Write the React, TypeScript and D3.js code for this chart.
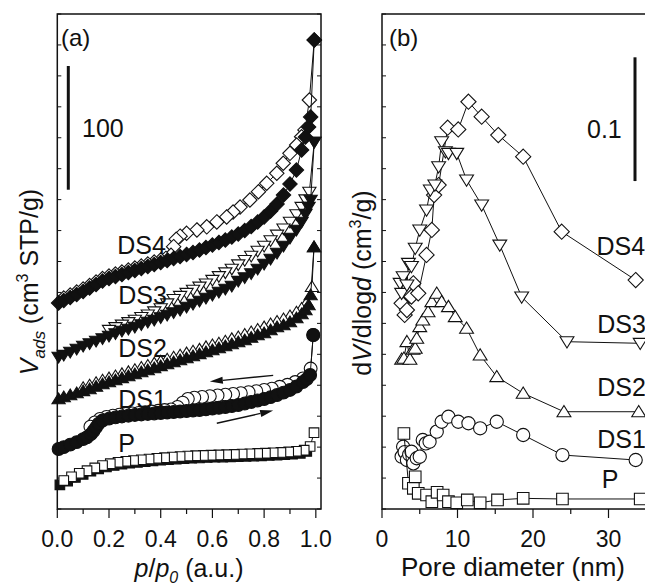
import React from 'react';
import * as d3 from 'd3';

type Pt = [number, number];

// ---------- Panel (a): N2 isotherms, [p/p0, V_ads (offset, cm3 STP/g)] ----------
const P_ADS: Pt[] = [[0.01,19.5],[0.04,22.5],[0.07,25.5],[0.1,28],[0.13,30.5],[0.16,32.5],[0.19,34],[0.22,35.2],[0.25,36.2],[0.28,37],[0.31,37.7],[0.34,38.3],[0.37,38.9],[0.4,39.4],[0.43,39.9],[0.46,40.3],[0.49,40.7],[0.52,41],[0.55,41.3],[0.58,41.6],[0.61,41.8],[0.64,42],[0.67,42.2],[0.7,42.4],[0.73,42.6],[0.76,42.8],[0.79,43],[0.82,43.3],[0.85,43.6],[0.88,43.9],[0.91,44.3],[0.94,45],[0.965,46.5]];
const P_DES: Pt[] = [[0.993,61.7],[0.978,50.5],[0.955,47.5],[0.925,46.6],[0.895,46.1],[0.865,45.7],[0.835,45.4],[0.805,45.1],[0.775,44.9],[0.745,44.6],[0.715,44.4],[0.685,44.1],[0.655,43.9],[0.625,43.7],[0.595,43.5],[0.565,43.3],[0.535,43.1],[0.505,42.8],[0.475,42.4],[0.445,42],[0.415,41.5],[0.385,41],[0.355,40.4],[0.325,39.8],[0.295,39.2],[0.265,38.5],[0.235,37.7],[0.205,36.6],[0.175,35.1],[0.145,33.2],[0.115,31],[0.085,28.8],[0.055,26],[0.025,23]];

const DS1_ADS: Pt[] = [[0.005,48.5],[0.025,50],[0.05,52],[0.075,54],[0.1,56.5],[0.115,58],[0.13,60.5],[0.14,63],[0.15,66],[0.16,69],[0.175,71.5],[0.2,73],[0.225,74],[0.25,74.8],[0.275,75.4],[0.3,76],[0.325,76.4],[0.35,76.8],[0.375,77.2],[0.4,77.6],[0.425,78],[0.45,78.4],[0.475,78.8],[0.5,79.2],[0.525,79.6],[0.55,80],[0.575,80.6],[0.6,81.2],[0.625,81.8],[0.65,82.4],[0.675,83.2],[0.7,84],[0.725,85.2],[0.75,86.5],[0.775,87.7],[0.8,88.9],[0.825,90.4],[0.85,92.1],[0.875,94],[0.9,96.2],[0.925,99],[0.95,102.6],[0.965,105],[0.978,108.3],[0.99,140.6]];
const DS1_DES: Pt[] = [[0.99,140.6],[0.98,113.5],[0.95,105.5],[0.92,102.6],[0.89,100.4],[0.86,98.8],[0.83,97.3],[0.8,96.2],[0.77,95.2],[0.74,94.4],[0.71,93.6],[0.68,93],[0.65,92.4],[0.62,91.8],[0.59,91.2],[0.56,90.6],[0.53,90],[0.505,89],[0.485,86],[0.465,82.5],[0.44,80.5],[0.415,80],[0.39,79.4],[0.365,78.8],[0.34,78.2],[0.315,77.6],[0.29,77.2],[0.265,76.8],[0.24,76.2],[0.215,75.4],[0.19,74.4],[0.165,72.8],[0.145,70],[0.128,66.5]];

const DS2_ADS: Pt[] = [[0.005,88.9],[0.025,90.5],[0.05,92.1],[0.075,93.7],[0.1,95.4],[0.125,97],[0.15,99],[0.175,101],[0.2,102.6],[0.225,104.2],[0.25,105.9],[0.275,107.5],[0.3,109.1],[0.325,110.7],[0.35,112.3],[0.375,113.9],[0.4,115.6],[0.425,117.2],[0.45,118.8],[0.475,120.4],[0.5,122],[0.525,123.6],[0.55,125.3],[0.575,126.9],[0.6,128.5],[0.625,130.1],[0.65,131.7],[0.675,133.3],[0.7,134.9],[0.725,136.6],[0.75,138.6],[0.775,140.6],[0.8,142.2],[0.825,144.6],[0.85,147.1],[0.875,148.7],[0.9,151.1],[0.925,154.3],[0.945,157.6],[0.96,160.8],[0.972,164.8],[0.98,172.9],[0.993,211.7]];
const DS2_DES: Pt[] = [[0.993,211.7],[0.985,179.6],[0.965,167],[0.945,162],[0.925,159],[0.9,156],[0.875,153.5],[0.85,151.5],[0.825,149.5],[0.8,147],[0.775,145],[0.75,143],[0.725,141],[0.7,139],[0.675,137.5],[0.65,135.5],[0.625,134],[0.6,132.5],[0.575,131],[0.55,129],[0.525,127.5],[0.5,126],[0.475,124.3],[0.45,122.6],[0.425,121],[0.4,119.3],[0.375,117.7],[0.35,116],[0.325,114.3],[0.3,112.5],[0.275,110.8],[0.25,109.2],[0.225,107.5],[0.2,105.8],[0.175,104],[0.15,102],[0.125,100],[0.1,98]];

const DS3_ADS: Pt[] = [[0.005,122.8],[0.025,124.4],[0.05,126.9],[0.075,129.3],[0.1,131.7],[0.125,133.7],[0.15,135.8],[0.175,137.8],[0.2,139.8],[0.225,141.8],[0.25,143.8],[0.275,145.5],[0.3,147.1],[0.325,149.1],[0.35,151.1],[0.375,152.7],[0.4,154.7],[0.425,156.8],[0.45,158.8],[0.475,160.8],[0.5,163.2],[0.525,165.7],[0.55,168.1],[0.575,170.5],[0.6,172.9],[0.625,175.4],[0.65,177.8],[0.675,180.2],[0.7,184.2],[0.725,187],[0.75,190.3],[0.775,194],[0.8,198],[0.825,202],[0.85,206.9],[0.875,212.5],[0.9,219],[0.925,225.5],[0.945,231.9],[0.96,238.4],[0.972,244],[0.98,249.7],[0.994,296.6]];
const DS3_DES: Pt[] = [[0.994,296.6],[0.975,256.2],[0.96,250],[0.945,244],[0.925,238],[0.9,232],[0.875,226.5],[0.85,221.5],[0.825,217],[0.8,212.5],[0.775,208.5],[0.75,204.5],[0.725,201],[0.7,197.5],[0.675,194],[0.65,191],[0.625,188],[0.6,185],[0.575,182],[0.55,179.5],[0.525,177],[0.5,174.5],[0.475,172],[0.45,169.5],[0.425,166],[0.4,162],[0.375,159.5],[0.35,157],[0.325,155],[0.3,152.8],[0.275,150.8],[0.25,148.8],[0.225,146.8],[0.2,144.6]];

const DS4_ADS: Pt[] = [[0.005,166.5],[0.025,168.5],[0.05,170.9],[0.075,173.3],[0.1,175.8],[0.125,178.6],[0.15,181.4],[0.175,184.2],[0.2,186.3],[0.225,187.9],[0.25,189.5],[0.275,191.1],[0.3,192.7],[0.325,194.3],[0.35,196],[0.375,197.6],[0.4,199.2],[0.425,200.8],[0.45,202.4],[0.475,204],[0.5,205.7],[0.525,207.3],[0.55,209.3],[0.575,211.3],[0.6,213.3],[0.625,215.4],[0.65,217.4],[0.675,219.8],[0.7,222.2],[0.725,225],[0.75,228.3],[0.775,231.9],[0.8,236],[0.825,240.8],[0.85,246.5],[0.875,253.7],[0.9,262.6],[0.925,273.9],[0.945,290.1],[0.96,300.6],[0.972,308.7],[0.98,316.8],[0.994,379]];
const DS4_DES: Pt[] = [[0.994,379],[0.975,330.5],[0.958,306.3],[0.945,300.8],[0.926,294.1],[0.9,287.4],[0.874,279.4],[0.849,271.3],[0.81,263.2],[0.778,256.4],[0.745,249.7],[0.707,244],[0.68,240],[0.655,236],[0.617,232],[0.578,228],[0.54,225.5],[0.5,222.8],[0.475,220.5],[0.46,218],[0.45,212],[0.44,205],[0.42,202.5],[0.4,201.2],[0.375,199.6],[0.35,198],[0.325,196.3],[0.3,194.7],[0.275,193.1],[0.25,191.5],[0.225,189.9],[0.2,188.3],[0.175,186.2],[0.15,183.4],[0.125,180.6],[0.1,177.8],[0.075,175.3],[0.05,172.9],[0.025,170.5]];

// ---------- Panel (b): BJH pore size distributions, [d (nm), dV/dlogd (offset, cm3/g)] ----------
const PSD_P: Pt[] = [[2.9,0.061],[3.5,0.0208],[4.15,0.0167],[4.4,0.026],[4.8,0.0127],[5.9,0.0113],[6.6,0.0059],[7.3,0.0135],[8.1,0.0113],[8.8,0.0059],[9.9,0.005],[11.3,0.0073],[13.0,0.005],[15.3,0.0073],[18.7,0.0086],[23.9,0.0081],[34.2,0.0081]];
const PSD_DS1: Pt[] = [[2.6,0.0423],[2.8,0.0503],[3.0,0.046],[3.3,0.0396],[3.6,0.044],[3.9,0.0463],[4.15,0.0369],[4.6,0.041],[5.0,0.0423],[5.4,0.0558],[5.8,0.053],[6.3,0.0544],[7.25,0.0625],[7.9,0.0705],[8.8,0.0746],[10.1,0.0705],[11.45,0.0693],[13.0,0.0652],[15.2,0.0705],[18.7,0.0598],[23.9,0.0436],[33.6,0.0396]];
const PSD_DS2: Pt[] = [[2.6,0.121],[2.9,0.1218],[3.3,0.1352],[3.7,0.121],[4.1,0.129],[4.4,0.1299],[4.6,0.138],[5.0,0.1473],[5.4,0.1527],[6.1,0.1594],[6.6,0.1675],[7.25,0.1743],[7.9,0.1675],[8.8,0.1635],[9.7,0.1554],[11.2,0.146],[13.0,0.1244],[15.2,0.1069],[18.7,0.0935],[24.1,0.0786],[34.0,0.0786]];
const PSD_DS3: Pt[] = [[2.4,0.1824],[2.6,0.1743],[2.8,0.1877],[3.3,0.181],[3.5,0.1985],[3.9,0.196],[4.4,0.2107],[5.0,0.2255],[5.9,0.2416],[6.4,0.2578],[7.0,0.2618],[7.5,0.2766],[7.9,0.2968],[8.4,0.2887],[8.8,0.2874],[9.9,0.2874],[11.2,0.2659],[13.2,0.2457],[15.6,0.2133],[18.5,0.1713],[24.5,0.1352],[34.2,0.1339]];
const PSD_DS4: Pt[] = [[2.6,0.1662],[3.0,0.1568],[3.3,0.1608],[3.5,0.1756],[3.9,0.1716],[4.15,0.1824],[4.8,0.1743],[5.9,0.2053],[6.6,0.2255],[6.9,0.2537],[7.5,0.2618],[8.7,0.3081],[10.1,0.3067],[11.45,0.3291],[13.2,0.317],[15.4,0.3022],[18.7,0.2847],[23.8,0.2241],[33.6,0.185]];

// ---------- axes / annotations ----------
const X_MAJOR_A = [0, 0.2, 0.4, 0.6, 0.8, 1.0];
const X_MINOR_A = [0.1, 0.3, 0.5, 0.7, 0.9];
const X_MAJOR_B = [0, 10, 20, 30];
const X_MINOR_B = [5, 15, 25, 35];
const Y_STEP_A = 25;
const Y_STEP_B = 0.025;
const SCALE_A = { top: 358, len: 100, label: '100' };
const SCALE_B = { top: 0.365, len: 0.1, label: '0.1' };
// hysteresis arrows [p, V] from -> to
const ARROW_DES: [Pt, Pt] = [[0.835, 108], [0.59, 103]];
const ARROW_ADS: [Pt, Pt] = [[0.617, 69.3], [0.835, 79.5]];

const LABELS_A = [
  { text: 'DS4', p: 0.232, v: 206 },
  { text: 'DS3', p: 0.236, v: 166 },
  { text: 'DS2', p: 0.236, v: 123 },
  { text: 'DS1', p: 0.236, v: 82 },
  { text: 'P', p: 0.236, v: 46 },
];
const LABELS_B = [
  { text: 'DS4', d: 28.4, v: 0.205 },
  { text: 'DS3', d: 28.5, v: 0.142 },
  { text: 'DS2', d: 28.5, v: 0.091 },
  { text: 'DS1', d: 28.5, v: 0.049 },
  { text: 'P', d: 29.1, v: 0.017 },
];

// ---------- layout ----------
const W = 645, H = 585;
const TOP = 14, BOTTOM = 509;
const A_LEFT = 57.3, A_RIGHT = 321;
const B_LEFT = 382, B_RIGHT = 684;
const FONT = "'Liberation Sans', Arial, Helvetica, sans-serif";
const INK = '#111';

const xa = d3.scaleLinear().domain([0, 1.02]).range([A_LEFT, A_RIGHT]);
const ya = d3.scaleLinear().domain([0, 400]).range([BOTTOM, TOP]);
const xb = d3.scaleLinear().domain([0, 40]).range([B_LEFT, B_RIGHT]);
const yb = d3.scaleLinear().domain([0, 0.4]).range([BOTTOM, TOP]);

function markerPath(shape: string, s: number): string {
  switch (shape) {
    case 'diamond':
      return `M0,${-s}L${s},0L0,${s}L${-s},0Z`;
    case 'up':
      return `M0,${-s * 0.95}L${s * 1.05},${s * 0.75}L${-s * 1.05},${s * 0.75}Z`;
    case 'down':
      return `M0,${s * 0.95}L${s * 1.05},${-s * 0.75}L${-s * 1.05},${-s * 0.75}Z`;
    case 'square':
      return `M${-s},${-s}H${s}V${s}H${-s}Z`;
    default:
      return `M${s},0A${s},${s} 0 1,1 ${-s},0A${s},${s} 0 1,1 ${s},0Z`;
  }
}

function Series(props: {
  data: Pt[];
  x: d3.ScaleLinear<number, number>;
  y: d3.ScaleLinear<number, number>;
  shape: string;
  size: number;
  filled: boolean;
}) {
  const { data, x, y, shape, size, filled } = props;
  const gen = d3.line<Pt>().x((d) => x(d[0])).y((d) => y(d[1]));
  const mp = markerPath(shape, size);
  return (
    <g>
      <path d={gen(data) || ''} fill="none" stroke={INK} strokeWidth={1} />
      {data.map((d, i) => (
        <path
          key={i}
          d={mp}
          transform={`translate(${x(d[0])},${y(d[1])})`}
          fill={filled ? INK : '#fff'}
          stroke={INK}
          strokeWidth={1.1}
        />
      ))}
    </g>
  );
}

function Arrow({ from, to }: { from: Pt; to: Pt }) {
  const x1 = xa(from[0]), y1 = ya(from[1]);
  const x2 = xa(to[0]), y2 = ya(to[1]);
  const ang = Math.atan2(y2 - y1, x2 - x1);
  const L = 13, hw = 3.6;
  const bx = x2 - L * Math.cos(ang), by = y2 - L * Math.sin(ang);
  const px = -Math.sin(ang) * hw, py = Math.cos(ang) * hw;
  return (
    <g>
      <line x1={x1} y1={y1} x2={bx} y2={by} stroke={INK} strokeWidth={1.3} />
      <path d={`M${x2},${y2}L${bx + px},${by + py}L${bx - px},${by - py}Z`} fill={INK} />
    </g>
  );
}

export default function App() {
  const yTicksA = d3.range(0, 400 + 1e-9, Y_STEP_A);
  const yTicksB = d3.range(0, 0.4 + 1e-9, Y_STEP_B);
  const fmtA = d3.format('.1f');

  return (
    <svg
      width={W}
      height={H}
      viewBox={`0 0 ${W} ${H}`}
      style={{ position: 'absolute', left: 0, top: 0, background: '#fff' }}
      fontFamily={FONT}
    >
      <rect x={0} y={0} width={W} height={H} fill="#fff" />

      {/* ================= Panel (a) ================= */}
      <g>
        {yTicksA.map((t, i) => (
          <g key={i}>
            <line x1={A_LEFT} x2={A_LEFT + 4} y1={ya(t)} y2={ya(t)} stroke={INK} strokeWidth={1} />
            <line x1={A_RIGHT} x2={A_RIGHT - 4} y1={ya(t)} y2={ya(t)} stroke={INK} strokeWidth={1} />
          </g>
        ))}
        {X_MAJOR_A.map((t, i) => (
          <g key={'M' + i}>
            <line x1={xa(t)} x2={xa(t)} y1={BOTTOM} y2={BOTTOM + 9} stroke={INK} strokeWidth={1.2} />
            <text x={xa(t)} y={547} fontSize={23} textAnchor="middle" fill={INK}>
              {fmtA(t)}
            </text>
          </g>
        ))}
        {X_MINOR_A.map((t, i) => (
          <line key={'m' + i} x1={xa(t)} x2={xa(t)} y1={BOTTOM} y2={BOTTOM + 5} stroke={INK} strokeWidth={1.2} />
        ))}

        <Series data={P_ADS} x={xa} y={ya} shape="square" size={4.8} filled={true} />
        <Series data={P_DES} x={xa} y={ya} shape="square" size={4.8} filled={false} />
        <Series data={DS1_DES} x={xa} y={ya} shape="circle" size={6.4} filled={false} />
        <Series data={DS1_ADS} x={xa} y={ya} shape="circle" size={6.4} filled={true} />
        <Series data={DS2_DES} x={xa} y={ya} shape="up" size={6.3} filled={false} />
        <Series data={DS2_ADS} x={xa} y={ya} shape="up" size={6.3} filled={true} />
        <Series data={DS3_DES} x={xa} y={ya} shape="down" size={6.3} filled={false} />
        <Series data={DS3_ADS} x={xa} y={ya} shape="down" size={6.3} filled={true} />
        <Series data={DS4_DES} x={xa} y={ya} shape="diamond" size={7.2} filled={false} />
        <Series data={DS4_ADS} x={xa} y={ya} shape="diamond" size={7.2} filled={true} />

        <rect x={A_LEFT} y={TOP} width={A_RIGHT - A_LEFT} height={BOTTOM - TOP} fill="none" stroke={INK} strokeWidth={1.5} />

        <Arrow from={ARROW_DES[0]} to={ARROW_DES[1]} />
        <Arrow from={ARROW_ADS[0]} to={ARROW_ADS[1]} />

        <line x1={68.3} x2={68.3} y1={ya(SCALE_A.top)} y2={ya(SCALE_A.top - SCALE_A.len)} stroke={INK} strokeWidth={3} />
        <text x={82} y={137} fontSize={25} fill={INK}>{SCALE_A.label}</text>
        <text x={61} y={46} fontSize={24} fill={INK}>(a)</text>

        {LABELS_A.map((l, i) => (
          <text key={i} x={xa(l.p)} y={ya(l.v)} fontSize={25} fill={INK}>{l.text}</text>
        ))}

        <text x={189} y={577} fontSize={25} textAnchor="middle" fill={INK}>
          <tspan fontStyle="italic">p</tspan>
          <tspan>/</tspan>
          <tspan fontStyle="italic">p</tspan>
          <tspan fontStyle="italic" fontSize={16} dy={6}>0</tspan>
          <tspan dy={-6}> (a.u.)</tspan>
        </text>
        <text transform="translate(38,282) rotate(-90)" fontSize={25} textAnchor="middle" fill={INK}>
          <tspan fontStyle="italic">V</tspan>
          <tspan fontStyle="italic" fontSize={17} dy={7}>ads</tspan>
          <tspan dy={-7}> (cm</tspan>
          <tspan fontSize={16} dy={-10}>3</tspan>
          <tspan dy={10}> STP/g)</tspan>
        </text>
      </g>

      {/* ================= Panel (b) ================= */}
      <g>
        {yTicksB.map((t, i) => (
          <line key={i} x1={B_LEFT} x2={B_LEFT + 4} y1={yb(t)} y2={yb(t)} stroke={INK} strokeWidth={1} />
        ))}
        {X_MAJOR_B.map((t, i) => (
          <g key={'M' + i}>
            <line x1={xb(t)} x2={xb(t)} y1={BOTTOM} y2={BOTTOM + 9} stroke={INK} strokeWidth={1.2} />
            <text x={xb(t)} y={547} fontSize={23} textAnchor="middle" fill={INK}>{t}</text>
          </g>
        ))}
        {X_MINOR_B.map((t, i) => (
          <line key={'m' + i} x1={xb(t)} x2={xb(t)} y1={BOTTOM} y2={BOTTOM + 5} stroke={INK} strokeWidth={1.2} />
        ))}

        <Series data={PSD_DS4} x={xb} y={yb} shape="diamond" size={7.6} filled={false} />
        <Series data={PSD_DS3} x={xb} y={yb} shape="down" size={6.6} filled={false} />
        <Series data={PSD_DS2} x={xb} y={yb} shape="up" size={6.6} filled={false} />
        <Series data={PSD_DS1} x={xb} y={yb} shape="circle" size={6.6} filled={false} />
        <Series data={PSD_P} x={xb} y={yb} shape="square" size={5.8} filled={false} />

        <rect x={B_LEFT} y={TOP} width={B_RIGHT - B_LEFT} height={BOTTOM - TOP} fill="none" stroke={INK} strokeWidth={1.5} />

        <line x1={635} x2={635} y1={yb(SCALE_B.top)} y2={yb(SCALE_B.top - SCALE_B.len)} stroke={INK} strokeWidth={3} />
        <text x={587} y={138} fontSize={25} fill={INK}>{SCALE_B.label}</text>
        <text x={389} y={46} fontSize={24} fill={INK}>(b)</text>

        {LABELS_B.map((l, i) => (
          <text key={i} x={xb(l.d)} y={yb(l.v)} fontSize={25} fill={INK}>{l.text}</text>
        ))}

        <text x={513} y={576} fontSize={26} textAnchor="middle" fill={INK}>Pore diameter (nm)</text>
        <text transform="translate(371,283) rotate(-90)" fontSize={25} textAnchor="middle" fill={INK}>
          <tspan>d</tspan>
          <tspan fontStyle="italic">V</tspan>
          <tspan>/dlog</tspan>
          <tspan fontStyle="italic">d</tspan>
          <tspan> (cm</tspan>
          <tspan fontSize={16} dy={-10}>3</tspan>
          <tspan dy={10}>/g)</tspan>
        </text>
      </g>
    </svg>
  );
}
